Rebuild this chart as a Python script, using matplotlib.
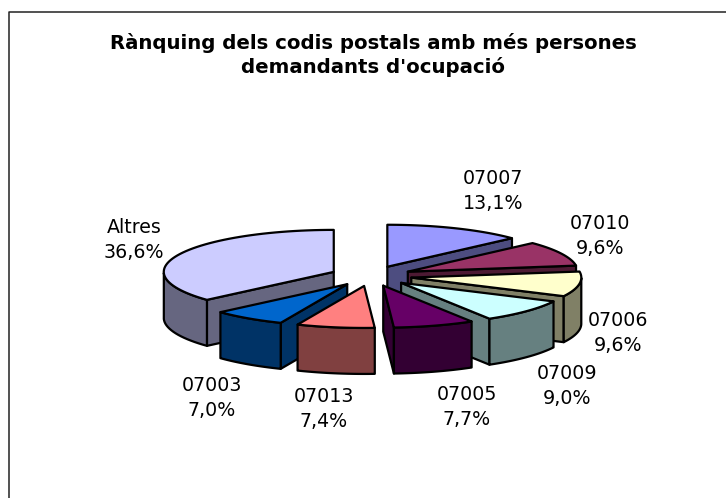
import numpy as np
import matplotlib
matplotlib.use('Agg')
import matplotlib.pyplot as plt
from matplotlib.patches import Polygon

title = "Rànquing dels codis postals amb més persones\ndemandants d'ocupació"
codes = ['07007', '07010', '07006', '07009', '07005', '07013', '07003', 'Altres']
shares = [13.1, 9.6, 9.6, 9.0, 7.7, 7.4, 7.0, 36.6]
top_colors = ['#9999FF', '#993366', '#FFFFCC', '#CCFFFF', '#660066', '#FF8080', '#0066CC', '#CCCCFF']
side_colors = ['#4D4D80', '#4D1A33', '#808066', '#668080', '#330033', '#804040', '#003366', '#666680']
label_pos = [(493, 191), (600, 236), (618, 333), (567, 386), (467, 407), (324, 409), (212, 398), (134, 240)]

# pie geometry in pixels
cx, cy = 371, 276
rx, ry = 170, 42
depth = 46
explode = 0.24


def project(a, r=1.0):
    return r * rx * np.sin(a), -r * ry * np.cos(a)


fig = plt.figure(figsize=(7.26, 4.98), dpi=100)
ax = fig.add_axes([0, 0, 1, 1])
ax.set_xlim(0, 726)
ax.set_ylim(498, 0)
ax.axis('off')

# the chart border only shows on the left and top, the rest is cropped
ax.plot([8.5, 8.5, 726], [498, 12, 12], color='#222222', lw=1.1, zorder=1)

# angles clockwise from 12 o'clock
edges = np.radians(np.cumsum([0] + shares) * 3.6)

# back slices first, Altres before the small ones in front of it
order = [0, 1, 2, 3, 7, 6, 5, 4]
z = 2
for i in order:
    a0, a1 = edges[i], edges[i + 1]
    dx, dy = project((a0 + a1) / 2, explode)
    ox, oy = cx + dx, cy + dy
    arc = np.linspace(a0, a1, 60)
    ax_, ay_ = project(arc)
    arc_x, arc_y = ox + ax_, oy + ay_

    faces = []
    if np.sin(a0) < 0:
        faces.append([(ox, oy), (arc_x[0], arc_y[0])])
    if np.sin(a1) > 0:
        faces.append([(ox, oy), (arc_x[-1], arc_y[-1])])
    for p, q in faces:
        poly = [p, q, (q[0], q[1] + depth), (p[0], p[1] + depth)]
        ax.add_patch(Polygon(poly, fc=side_colors[i], ec='black', lw=1.6, joinstyle='round', zorder=z))
        z += 1

    front = np.cos(arc) < 0
    if front.any():
        wx, wy = arc_x[front], arc_y[front]
        poly = list(zip(wx, wy)) + list(zip(wx[::-1], wy[::-1] + depth))
        ax.add_patch(Polygon(poly, fc=side_colors[i], ec='black', lw=1.6, joinstyle='round', zorder=z))
        z += 1

    top = [(ox, oy)] + list(zip(arc_x, arc_y))
    ax.add_patch(Polygon(top, fc=top_colors[i], ec='black', lw=1.6, joinstyle='round', zorder=z))
    z += 1

for code, share, pos in zip(codes, shares, label_pos):
    txt = code + '\n' + f'{share:.1f}'.replace('.', ',') + '%'
    ax.text(pos[0], pos[1], txt, ha='center', va='center', fontsize=13.7,
            family='DejaVu Sans', linespacing=1.45, zorder=50)

ax.text(373, 55, title, ha='center', va='center', fontsize=14.2, fontweight='bold',
        family='DejaVu Sans', linespacing=1.3, zorder=50)

fig.savefig('out.png', dpi=100)
